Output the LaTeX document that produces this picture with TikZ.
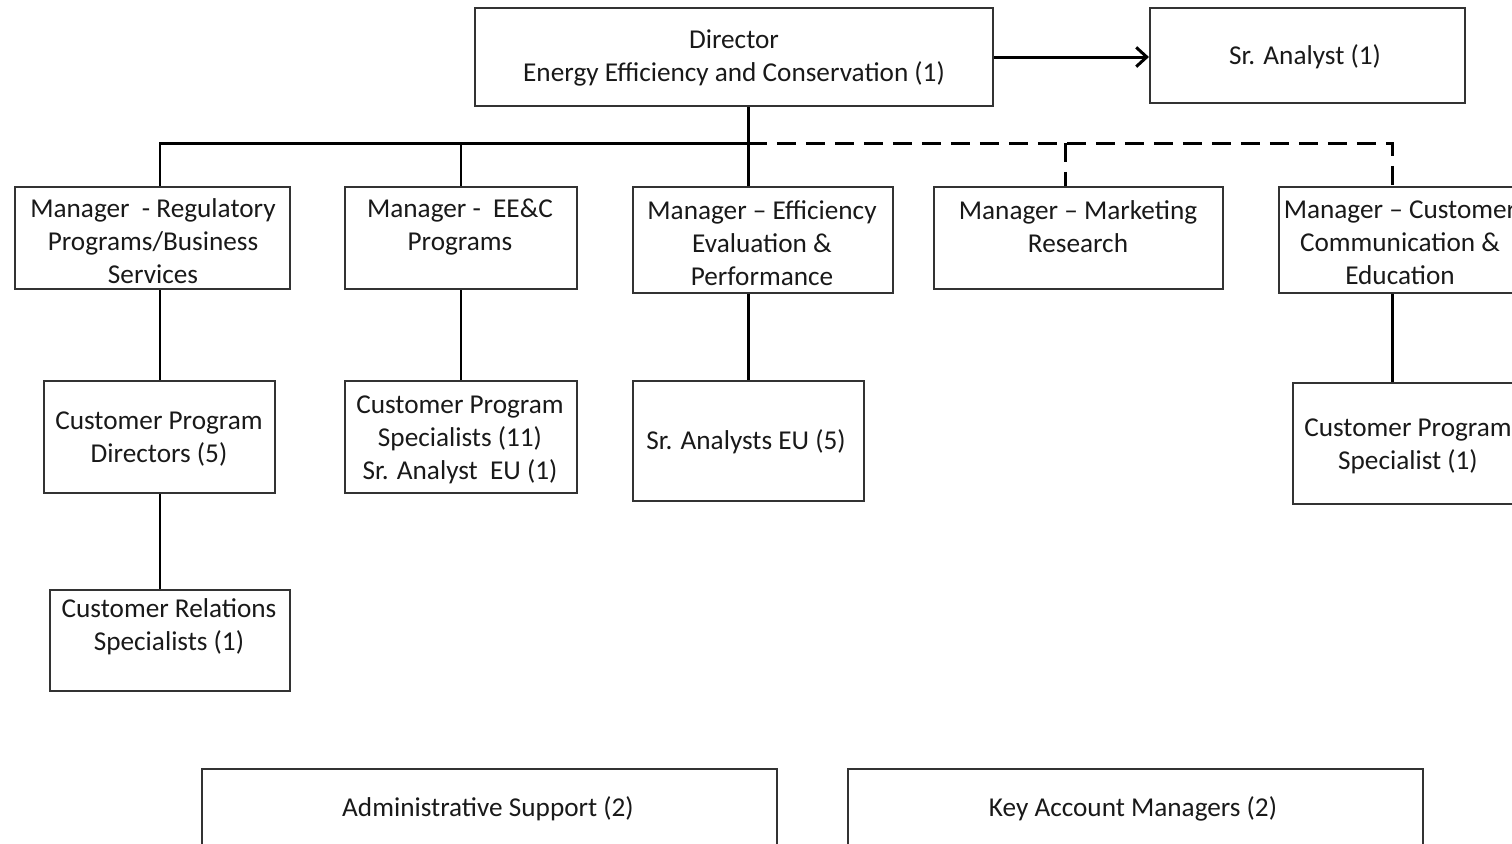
\documentclass[tikz,border=0pt]{standalone}
\usepackage{fontspec}
\setmainfont{Carlito}
\usetikzlibrary{arrows.meta,fit,calc}
\begin{document}
\begin{tikzpicture}[x=0.02cm,y=-0.02cm,
  box/.style={draw=black!80, line width=1.2pt, inner sep=0pt},
  txt/.style={font=\fontsize{15.5}{18.8}\selectfont, align=center, inner sep=0pt, text=black!90},
  con/.style={line width=1.7pt, black},
  dsh/.style={con, dash pattern=on 11pt off 5.5pt}]
\useasboundingbox (0,0) rectangle (1512,843);
\clip (0,0) rectangle (1512,843);
% boxes
\node[box, fit={(475,8) (993,106)}] (dir) {};
\node[box, fit={(1150,8) (1465,103)}] (sra) {};
\node[box, fit={(15,187) (290,289)}] (reg) {};
\node[box, fit={(345,187) (577,289)}] (eec) {};
\node[box, fit={(633,187) (893,293)}] (eff) {};
\node[box, fit={(934,187) (1223,289)}] (mkt) {};
\node[box, fit={(1279,187) (1530,293)}] (cust) {};
\node[box, fit={(44,381) (275,493)}] (cpd) {};
\node[box, fit={(345,381) (577,493)}] (cps) {};
\node[box, fit={(633,381) (864,501)}] (sae) {};
\node[box, fit={(1293,383) (1530,504)}] (cpsa) {};
\node[box, fit={(50,590) (290,691)}] (crs) {};
\node[box, fit={(202,769) (777,900)}] (adm) {};
\node[box, fit={(848,769) (1423,900)}] (kam) {};
% texts
\node[txt] (tdir) at (734,58) {Director\\Energy Efficiency and Conservation (1)};
\node[txt] (tsra) at (1305,57) {Sr. Analyst (1)};
\node[txt] (treg) at (153,241) {Manager\ \ - Regulatory\\Programs/Business\\Services};
\node[txt] (teec) at (460,227) {Manager -\ \ EE\&C\\Programs};
\node[txt] (teff) at (762,243) {Manager -- Efficiency\\Evaluation \&\\Performance};
\node[txt] (tmkt) at (1078,227) {Manager -- Marketing\\Research};
\node[txt] (tcust) at (1400,243) {Manager -- Customer\\Communication \&\\Education};
\node[txt] (tcpd) at (159,439) {Customer Program\\Directors (5)};
\node[txt] (tcps) at (460,440) {Customer Program\\Specialists (11)\\Sr. Analyst\ \ EU (1)};
\node[txt] (tsae) at (746,442) {Sr. Analysts EU (5)};
\node[txt] (tcpsa) at (1408,446) {Customer Program\\Specialist (1)};
\node[txt] (tcrs) at (169,627) {Customer Relations\\Specialists (1)};
\node[txt] (tadm) at (488,809) {Administrative Support (2)};
\node[txt] (tkam) at (1133,809) {Key Account Managers (2)};
% connector coordinates
\coordinate (bus) at (748,143);
\coordinate (xreg) at (160,143);
\coordinate (xeec) at (461,143);
\coordinate (xmkt) at (1065,143);
\coordinate (xcust) at (1392,143);
% connectors
\draw[con, -{Straight Barb[length=6pt,width=11pt]}] (dir.east |- 0,57) -- (sra.west |- 0,57);
\draw[con] (dir.south -| bus) -- (eff.north -| bus);
\draw[con] (xreg |- reg.north) -- (xreg) -- (bus);
\draw[con] (xeec) -- (xeec |- eec.north);
\draw[dsh] (bus) -- (xcust) -- (xcust |- cust.north);
\draw[dsh] (xmkt) -- (xmkt |- mkt.north);
\draw[con] (xreg |- reg.south) -- (xreg |- cpd.north);
\draw[con] (xreg |- cpd.south) -- (xreg |- crs.north);
\draw[con] (xeec |- eec.south) -- (xeec |- cps.north);
\draw[con] (eff.south -| bus) -- (sae.north -| bus);
\draw[con] (xcust |- cust.south) -- (xcust |- cpsa.north);
\end{tikzpicture}
\end{document}
